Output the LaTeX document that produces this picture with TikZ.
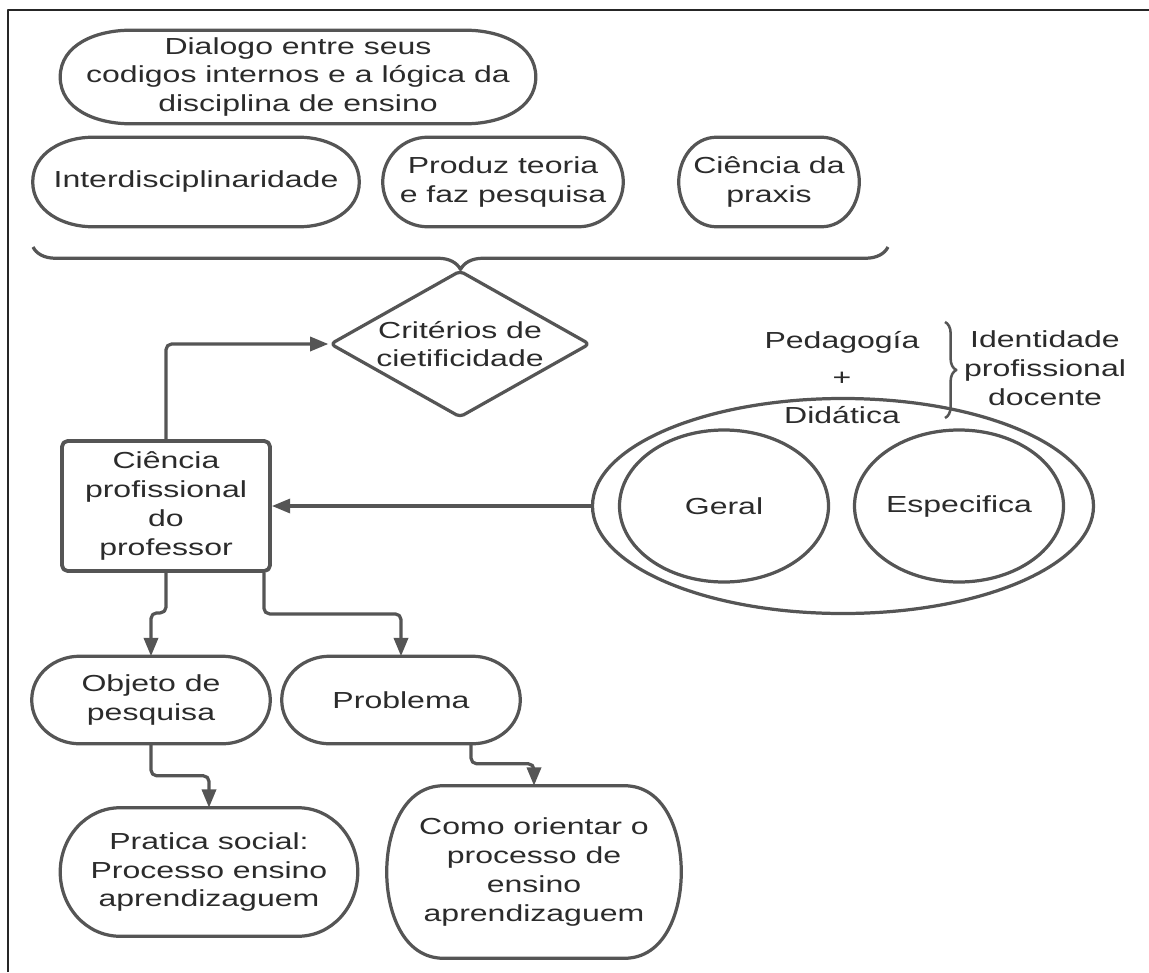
\documentclass[tikz,border=0pt]{standalone}
\usepackage{fontspec}
\newfontfamily\diagfont[FakeStretch=1.38]{Liberation Sans}
\usetikzlibrary{shapes.geometric,arrows.meta,calc,decorations.pathreplacing}

\definecolor{linegray}{HTML}{555555}
\definecolor{textgray}{HTML}{2B2B2B}
\newdimen\pxu \pxu=0.025cm

\tikzset{
	edge/.style={draw=linegray, line width=2.3pt},
	arr/.style={edge, rounded corners=4pt, -{Triangle[length=13pt,width=10pt]}},
	pill/.style 2 args={minimum width=#1\pxu, minimum height=#2\pxu, inner sep=0pt, align=center},
}

% outline of a pill shaped node: name, width of the rounded ends
\newcommand{\pillline}[2]{%
	\draw[edge] (#1.west) to[out=90,in=180] ($(#1.north west)+(#2,0)$)
		-- ($(#1.north east)+(-#2,0)$) to[out=0,in=90] (#1.east)
		to[out=-90,in=0] ($(#1.south east)+(-#2,0)$)
		-- ($(#1.south west)+(#2,0)$) to[out=180,in=-90] (#1.west) -- cycle;}

\begin{document}
\begin{tikzpicture}[x=0.025cm, y=-0.025cm, font=\diagfont\fontsize{16.5pt}{20.5pt}\selectfont, every node/.style={text=textgray}, line join=round]
	\useasboundingbox (0,0) rectangle (1149,972);
	\draw[black!85, line width=1pt] (8,972) -- (8,10) -- (1149,10);
	
	% caixas de cima
	\node[pill={475}{93}] (dialogo) at (298,77) {Dialogo entre seus\\codigos internos e a lógica da\\disciplina de ensino};
	\node[pill={326}{89}] (inter) at (196,182) {Interdisciplinaridade};
	\node[pill={240}{89}] (produz) at (503,182) {Produz teoria\\e faz pesquisa};
	\node[pill={180}{89}] (praxis) at (769,182) {Ciência da\\praxis};
	\pillline{dialogo}{70}
	\pillline{inter}{60}
	\pillline{produz}{45}
	\pillline{praxis}{38}
	
	% chave
	\coordinate (braceR) at (888,247);
	\coordinate (braceL) at (33,247);
	\draw[edge, decorate, decoration={brace, amplitude=16pt}] (braceR) -- (braceL);
	
	% criterios e ciencia
	\node[diamond, edge, rounded corners=3pt, aspect=1.77, inner sep=0pt, minimum width=260\pxu, minimum height=147\pxu, align=center] (crit) at (460,344) {Critérios de\\cietificidade};
	\node[edge, line width=2.7pt, rounded corners=4pt, minimum width=208\pxu, minimum height=130\pxu, align=center] (ciencia) at (166,506) {Ciência\\profissional\\do\\professor};
	
	% pedagogia + didatica
	\node[ellipse, edge, inner sep=0pt, minimum width=501\pxu, minimum height=215\pxu] (outer) at (843,506) {};
	\node[ellipse, edge, inner sep=0pt, minimum width=209\pxu, minimum height=152\pxu] (geral) at (724,506) {Geral};
	\node[ellipse, edge, inner sep=0pt, minimum width=209\pxu, minimum height=152\pxu] (espec) at (959,506) {Especifica};
	\node (ped) at (842,342) {Pedagogía};
	\node (plus) at (842,379) {+};
	\node (did) at (842,415) {Didática};
	\coordinate (idTop) at (945,322);
	\coordinate (idBot) at (945,418);
	\draw[edge, line width=1.8pt, decorate, decoration={brace, amplitude=8pt}] (idTop) -- (idBot);
	\node[align=center] (ident) at (1045,368) {Identidade\\profissional\\docente};
	
	% caixas de baixo
	\node[pill={238}{87}] (objeto) at (151,700) {Objeto de\\pesquisa};
	\node[pill={238}{87}] (problema) at (401,700) {Problema};
	\node[pill={297}{128}] (pratica) at (209,872) {Pratica social:\\Processo ensino\\aprendizaguem};
	\node[pill={294}{172}] (como) at (534,872) {Como orientar o\\processo de\\ensino\\aprendizaguem};
	\pillline{objeto}{48}
	\pillline{problema}{48}
	\pillline{pratica}{60}
	\pillline{como}{57}
	
	% setas
	\draw[arr] (ciencia.north) |- (crit.west);
	\draw[arr] (outer.west) -- (ciencia.east);
	\draw[arr] (ciencia.south) -- ++(0,40) -| (objeto.north);
	\draw[arr] ($(ciencia.south east)+(-8,0)$) -- ++(0,41) -| (problema.north);
	\draw[arr] (objeto.south) -- ++(0,32) -| (pratica.north);
	\draw[arr] ($(problema.south)+(70,0)$) -- ++(0,20) -| (como.north);
\end{tikzpicture}
\end{document}
